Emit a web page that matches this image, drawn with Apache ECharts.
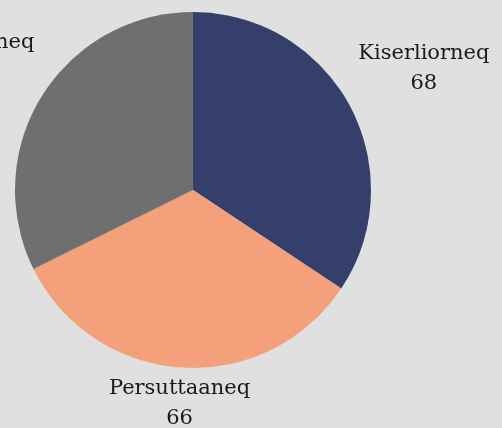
<!DOCTYPE html>
<html>
<head>
<meta charset="utf-8">
<script src="https://cdn.jsdelivr.net/npm/echarts@6/dist/echarts.min.js"></script>
<style>
html,body{margin:0;padding:0;background:#e0e0e0;}
#c{width:502px;height:428px;}
</style>
</head>
<body>
<div id="c"></div>
<script>
const categories = ['Kiserliorneq', 'Persuttaaneq', 'Illersorneq'];
const values = [68, 66, 64];
const colors = ['#34406b', '#f4a07a', '#6f6f6f'];

const CX = 193, CY = 190, R = 178, GAP = 12;
const total = values.reduce((a, b) => a + b, 0);
const mids = [];
let acc = 0;
values.forEach(v => { mids.push((acc + v / 2) / total * 2 * Math.PI); acc += v; });

const chart = echarts.init(document.getElementById('c'));
chart.setOption({
  backgroundColor: '#e0e0e0',
  animation: false,
  series: [{
    type: 'pie',
    center: [CX, CY],
    radius: [0, R],
    startAngle: 90,
    clockwise: true,
    avoidLabelOverlap: false,
    data: categories.map((n, i) => ({ name: n, value: values[i], itemStyle: { color: colors[i] } })),
    label: {
      show: true,
      position: 'outside',
      alignTo: 'none',
      overflow: 'none',
      formatter: '{b}\n{c}',
      fontFamily: 'DejaVu Serif',
      fontSize: 21,
      lineHeight: 30,
      color: '#1a1a1a',
      align: 'center'
    },
    labelLine: { show: false },
    labelLayout: function (p) {
      const a = mids[p.dataIndex];
      const ux = Math.sin(a), uy = -Math.cos(a);
      const w = p.labelRect.width, h = p.labelRect.height;
      const sx = (ux >= 0 ? 1 : -1) * w / 2, sy = (uy >= 0 ? 1 : -1) * h / 2;
      const us = ux * sx + uy * sy;
      const Rg = R + GAP;
      const d = us + Math.sqrt(us * us - (sx * sx + sy * sy) + Rg * Rg);
      return { x: CX + d * ux, y: CY + d * uy + 2.5, align: 'center', verticalAlign: 'middle', hideOverlap: false };
    }
  }]
});
</script>
</body>
</html>
